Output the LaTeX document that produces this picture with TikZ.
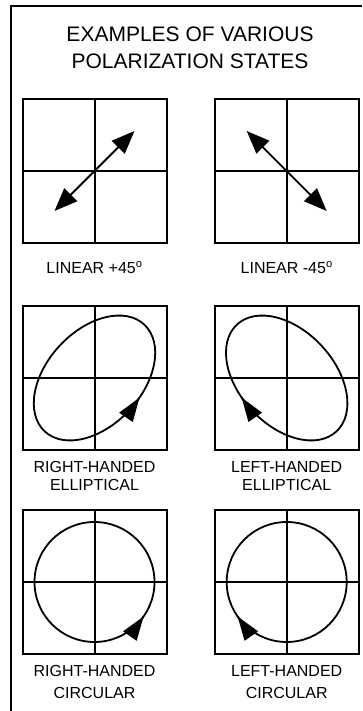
\documentclass[tikz,border=0pt]{standalone}
\usepackage{fontspec}
\setmainfont{Liberation Sans}
\usetikzlibrary{arrows.meta, positioning}
\tikzset{
  polbox/.style={draw, line width=2pt, minimum size=144pt, inner sep=0pt},
  titletext/.style={font=\fontsize{21}{26.7}\selectfont, align=center, inner sep=0pt},
  statetext/.style={font=\fontsize{16}{18}\selectfont, align=center, inner sep=0pt},
  polaxis/.style={line width=2pt},
  polcurve/.style={line width=1.8pt},
  curvetip/.style={line width=1.8pt, -{Triangle[length=24pt,width=16pt]}}
}

\begin{document}
\begin{tikzpicture}[x=1pt,y=1pt]
  \useasboundingbox (0,0) rectangle (362,711);
  % frame
  \draw[line width=2.2pt] (11,0) |- (362,705.3);
  \node[titletext, anchor=north] (title) at (190,684.3) {EXAMPLES OF VARIOUS\\POLARIZATION STATES};
  % boxes with axes
  \foreach \n/\x/\y in {linp/94.5/540, linm/286.7/540, ellr/94.5/333, elll/286.7/333, circr/94.5/129, circl/286.7/129} {
    \node[polbox] (\n) at (\x,\y) {};
    \draw[polaxis] (\n.north) -- (\n.south) (\n.west) -- (\n.east);
  }
  % linear
  \draw[polcurve, {Triangle[length=23pt,width=18pt]}-{Triangle[length=23pt,width=18pt]}]
    ([shift={(-40,-40)}]linp.center) -- ([shift={(40,40)}]linp.center);
  \draw[polcurve, {Triangle[length=23pt,width=18pt]}-{Triangle[length=23pt,width=18pt]}]
    ([shift={(-40,40)}]linm.center) -- ([shift={(40,-40)}]linm.center);
  % elliptical
  \begin{scope}[shift={(ellr.center)}, rotate=47]
    \draw[polcurve] (0,0) ellipse [x radius=73, y radius=47.5];
    \draw[curvetip] (-77:73 and 47.5) ++(188.6:0.5) -- (-77:73 and 47.5);
  \end{scope}
  \begin{scope}[shift={(elll.center)}, xscale=-1, rotate=47]
    \draw[polcurve] (0,0) ellipse [x radius=73, y radius=47.5];
    \draw[curvetip] (-77:73 and 47.5) ++(188.6:0.5) -- (-77:73 and 47.5);
  \end{scope}
  % circular
  \begin{scope}[shift={(circr.center)}]
    \draw[polcurve] (0,0) circle [radius=60];
    \draw[curvetip] (-35:60) ++(235:0.5) -- (-35:60);
  \end{scope}
  \begin{scope}[shift={(circl.center)}, xscale=-1]
    \draw[polcurve] (0,0) circle [radius=60];
    \draw[curvetip] (-35:60) ++(235:0.5) -- (-35:60);
  \end{scope}
  % labels
  \node[statetext, below=17.2pt of linp] (linplab) {LINEAR +45\textsuperscript{o}};
  \node[statetext, below=17.2pt of linm] (linmlab) {LINEAR -45\textsuperscript{o}};
  \node[statetext, below=10.2pt of ellr] (ellrlab) {RIGHT-HANDED\\ELLIPTICAL};
  \node[statetext, below=10.2pt of elll] (elllab) {LEFT-HANDED\\ELLIPTICAL};
  \node[statetext, font=\fontsize{16}{21.6}\selectfont, below=10.2pt of circr] (circrlab) {RIGHT-HANDED\\CIRCULAR};
  \node[statetext, font=\fontsize{16}{21.6}\selectfont, below=10.2pt of circl] (circllab) {LEFT-HANDED\\CIRCULAR};
\end{tikzpicture}
\end{document}
